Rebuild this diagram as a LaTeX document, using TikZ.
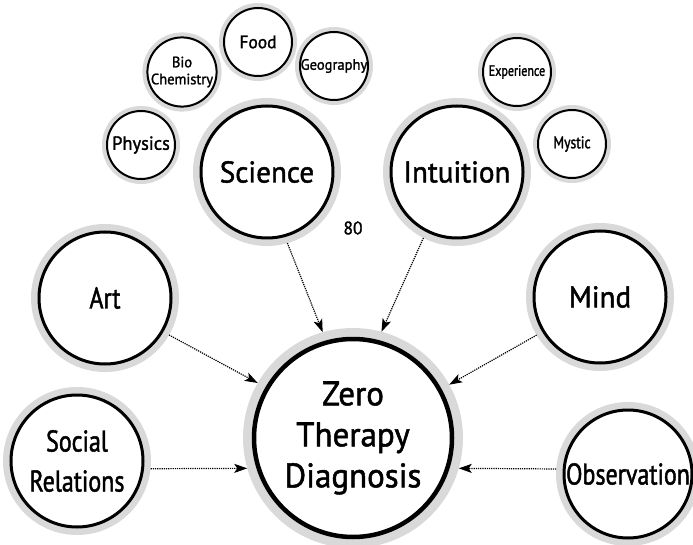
\documentclass[tikz,border=0pt]{standalone}
\usepackage{fontspec}
\setmainfont{PT Sans}[FakeStretch=0.97,FakeBold=1.5]
\newfontfamily\narrowfont{PT Sans}[FakeStretch=0.8,FakeBold=1.5]
\usetikzlibrary{arrows.meta}
\definecolor{ringgray}{RGB}{217,217,217}

\begin{document}
\begin{tikzpicture}[x=1pt,y=-1pt,
  hub/.style={draw,circle,fill=white,inner sep=0pt,align=center,line width=4.5pt,
    preaction={draw=ringgray,line width=22pt},outer sep=11pt,minimum size=198pt,
    font=\fontsize{34}{41}\selectfont},
  topic/.style={draw,circle,fill=white,inner sep=0pt,align=center,line width=3pt,
    preaction={draw=ringgray,line width=16pt},outer sep=8pt,minimum size=132pt,
    font=\fontsize{30}{40}\selectfont},
  leaf/.style={draw,circle,fill=white,inner sep=0pt,align=center,line width=2pt,
    preaction={draw=ringgray,line width=10pt},outer sep=5pt,minimum size=68pt,
    font=\fontsize{#1}{17}\selectfont},
  leaf/.default=18,
  link/.style={densely dotted,line width=1.2pt,-{Stealth[length=13pt,width=9pt,inset=3pt]}}]
\useasboundingbox (0,0) rectangle (693,545);

\node[hub] (zero) at (353,438) {Zero\\Therapy\\Diagnosis};

\node[topic] (science) at (267,172) {Science};
\node[topic] (intuition) at (457,172) {Intuition};
\node[topic] (art) at (105,298) {\narrowfont Art};
\node[topic] (mind) at (600,297) {Mind};
\node[topic] (social) at (77,461) {\narrowfont Social\\\narrowfont Relations};
\node[topic,minimum size=128pt] (observation) at (628,474) {\narrowfont Observation};

\node[leaf=19] (physics) at (141,145) {Physics};
\node[leaf=15] (biochem) at (182,72) {Bio\\Chemistry};
\node[leaf] (food) at (258,42) {Food};
\node[leaf=15] (geography) at (334,66) {Geography};
\node[leaf=15] (experience) at (517,72) {\narrowfont Experience};
\node[leaf=17] (mystic) at (572,144) {\narrowfont Mystic};

\node[font=\fontsize{18}{20}\selectfont] (num) at (353,228) {80};

\draw[link] (science.-74) -- (zero.106);
\draw[link] (intuition.-117) -- (zero.75);
\draw[link] (art.-30) -- (zero.150);
\draw[link] (mind.-149) -- (zero.29);
\draw[link] (social.-6) -- (zero.-164);
\draw[link] (observation.176) -- (zero.-16);
\end{tikzpicture}
\end{document}
